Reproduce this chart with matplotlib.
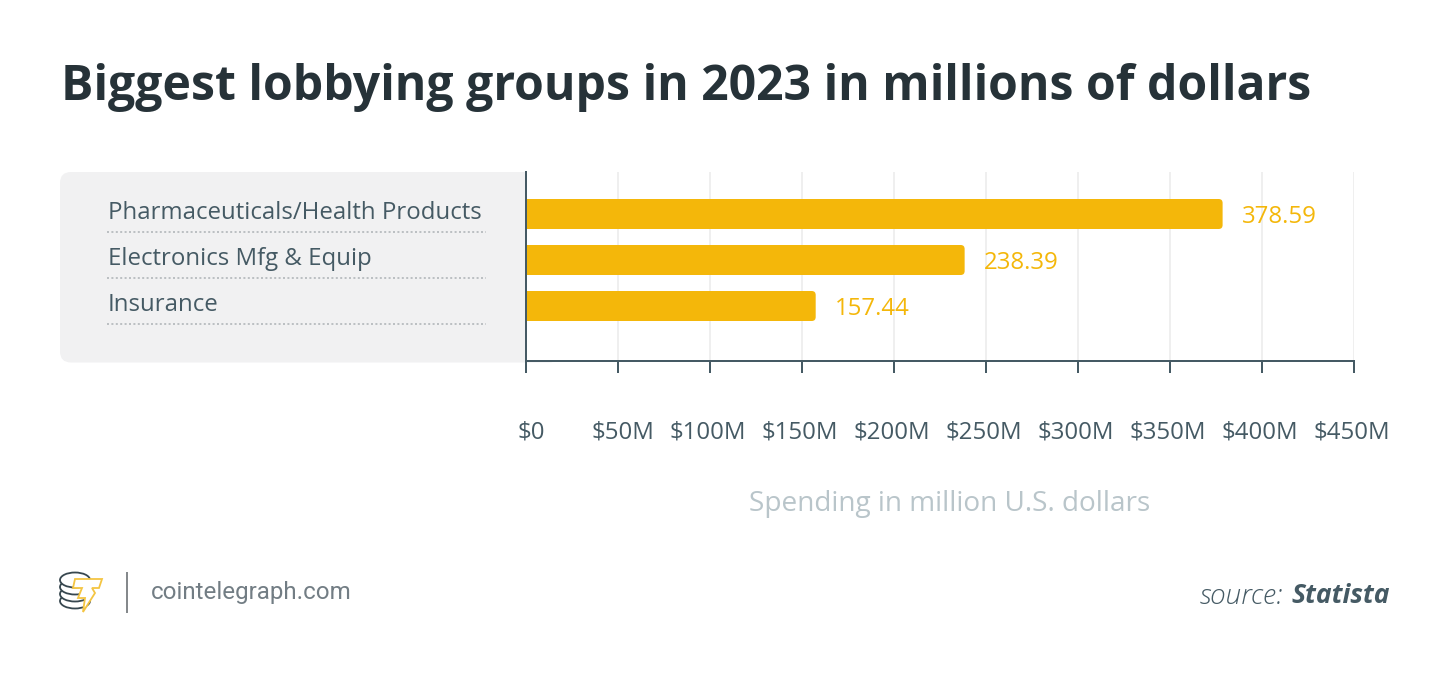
import matplotlib
matplotlib.use('Agg')
import matplotlib.pyplot as plt
from matplotlib.patches import FancyBboxPatch, Ellipse, Polygon
from matplotlib.transforms import ScaledTranslation

categories = ['Pharmaceuticals/Health Products', 'Electronics Mfg & Equip', 'Insurance']
spending = [378.59, 238.39, 157.44]
tick_values = [0, 50, 100, 150, 200, 250, 300, 350, 400, 450]
tick_labels = ['$0', '$50M', '$100M', '$150M', '$200M', '$250M', '$300M', '$350M', '$400M', '$450M']

W, H = 1450, 673
DARK = '#263238'
SLATE = '#455a64'
YELLOW = '#f4b70a'
FONT = 'Open Sans'

plt.rcParams['font.family'] = FONT


def px(size):
    # pixel size to points at dpi 100
    return size * 0.72


fig = plt.figure(figsize=(W / 100, H / 100), dpi=100, facecolor='white')

# pixel-space layer for the panel, text and logo
bg = fig.add_axes([0, 0, 1, 1], zorder=0)
bg.set_xlim(0, W)
bg.set_ylim(H, 0)
bg.axis('off')

bg.add_patch(FancyBboxPatch((60, 172), 500, 190.5, boxstyle='round,pad=0,rounding_size=11',
                            fc='#f1f1f2', ec='none'))

# main chart
ax_l, ax_r, ax_t, ax_b = 526, 1354, 172, 361
ax = fig.add_axes([ax_l / W, 1 - ax_b / H, (ax_r - ax_l) / W, (ax_b - ax_t) / H],
                  zorder=1, facecolor='white')
ax.set_xlim(0, 450)
band = 46
ax.set_ylim((ax_b - 214) / band, (ax_t - 214) / band)

ax.set_axisbelow(True)
ax.grid(axis='x', color='#efefef', linewidth=px(2))
ax.set_xticks(tick_values)
ax.set_xticklabels(tick_labels)
ax.set_yticks([])
for s in ['top', 'right']:
    ax.spines[s].set_visible(False)
for s in ['left', 'bottom']:
    ax.spines[s].set_color(SLATE)
    ax.spines[s].set_linewidth(px(2))
    ax.spines[s].set_zorder(4)
ax.tick_params(axis='x', length=px(12), width=px(2), color=SLATE, labelcolor=SLATE,
               labelsize=px(24), pad=px(48))

# tick labels are a bit off centre in the original
for lab in ax.get_xticklabels():
    shift = 5 if len(lab.get_text()) < 5 else -2
    lab.set_transform(lab.get_transform() + ScaledTranslation(shift / 100, 0, fig.dpi_scale_trans))

x_scale = (ax_r - ax_l) / 450
for i, (name, val) in enumerate(zip(categories, spending)):
    bar = FancyBboxPatch((-5, i - 15 / band), val + 5, 30 / band,
                         boxstyle=f'round,pad=0,rounding_size={4 / x_scale}',
                         mutation_aspect=x_scale / band, fc=YELLOW, ec='none', zorder=3)
    ax.add_patch(bar)
    bar.set_clip_path(ax.patch)
    ax.annotate(f'{val:.2f}', (val, i), xytext=(px(19), -px(3)), textcoords='offset points',
                va='center', ha='left', color=YELLOW, fontsize=px(24), zorder=4)
    row = 214 + i * band
    bg.text(108, row - 1, name, color=SLATE, fontsize=px(24), va='center', ha='left')
    bg.plot([107, 486], [row + 18, row + 18], color='#bcc0c3', lw=px(2), ls=(0, (1, 1.2)))

bg.text(61, 87, 'Biggest lobbying groups in 2023 in millions of dollars', color=DARK,
        fontsize=px(48.1), fontweight='bold', va='center', ha='left')
bg.text(950, 504, 'Spending in million U.S. dollars', color='#b9c5ca', fontsize=px(28),
        va='center', ha='center')

# footer logo
for cy in [601, 594, 587, 580]:
    bg.add_patch(Ellipse((75, cy), 30, 15, fc='white', ec='#37474f', lw=px(1.8)))
bolt = [(75, 579), (102, 579), (99, 588), (92, 588), (95, 593), (83, 612), (85, 598),
        (78, 598), (82, 588), (73, 588)]
bg.add_patch(Polygon(bolt, closed=True, fc='white', ec='#f4c542', lw=px(1.8), joinstyle='miter'))
bg.plot([127, 127], [573, 612], color='#85898c', lw=px(2))
bg.text(151, 593, 'cointelegraph.com', color='#727d84', fontsize=px(24.1), family='Roboto',
        va='center', ha='left')

# source line, laid out from the right edge
src_b = bg.text(1390, 596, 'Statista', color=SLATE, fontsize=px(26.5), fontweight='bold',
                style='italic', va='center', ha='right')
fig.canvas.draw()
ext = src_b.get_window_extent()
bg.text(ext.x0 - 8, 596, 'source:', color=SLATE, fontsize=px(28), fontweight='light',
        style='italic', va='center', ha='right')

fig.savefig('out.png', dpi=100, facecolor='white')
